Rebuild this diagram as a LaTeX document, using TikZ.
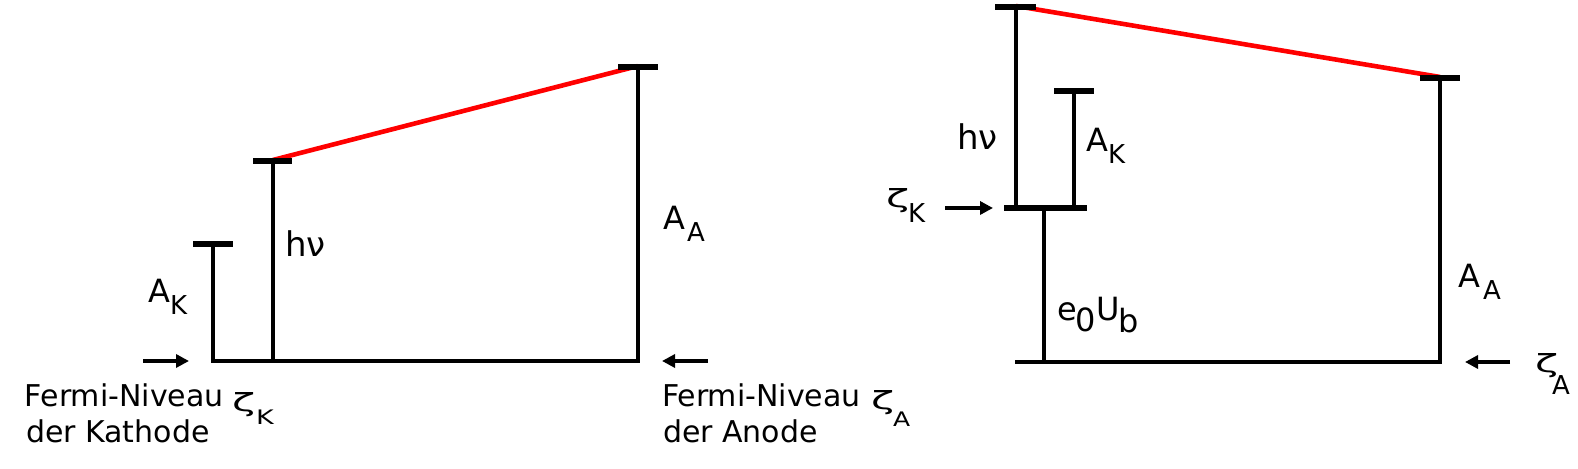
\documentclass[tikz,border=0pt]{standalone}
\usepackage{graphicx}
\usepackage{fontspec}
\setmainfont{DejaVu Sans}
\usetikzlibrary{arrows.meta}
\newcommand\myzeta{\scalebox{1.7}[1]{ζ}}
\begin{document}
\begin{tikzpicture}[x=0.5pt,y=-0.5pt,
  lvl/.style={line width=2.2pt, line join=miter, line cap=butt},
  tickbar/.style={line width=2.8pt},
  redline/.style={line width=2.3pt, red},
  fermiarrow/.style={line width=2.2pt, -{Triangle[length=6.5pt,width=6.5pt]}},
  lbl/.style={anchor=base west, inner sep=0pt, outer sep=0pt, font=\fontsize{16}{19}\selectfont},
  biglbl/.style={anchor=base west, inner sep=0pt, outer sep=0pt, font=\fontsize{17}{20}\selectfont},
  eulbl/.style={anchor=base west, inner sep=0pt, outer sep=0pt, font=\fontsize{16}{19}\selectfont},
  sublbl/.style={anchor=base west, inner sep=0pt, outer sep=0pt, font=\fontsize{13}{15}\selectfont},
  txt/.style={anchor=base west, inner sep=0pt, outer sep=0pt, font=\fontsize{15}{18}\selectfont},
  smallsub/.style={anchor=base west, inner sep=0pt, outer sep=0pt, font=\fontsize{10}{12}\selectfont},
  zetalbl/.style={anchor=base west, inner sep=0pt, outer sep=0pt, font=\fontsize{12.5}{15}\selectfont},
]
\useasboundingbox (0,0) rectangle (1578,469);

% ---------- left diagram: coordinates ----------
\coordinate (LakTop) at (213,244);
\coordinate (LakBot) at (213,361);
\coordinate (LhvTop) at (273,161);
\coordinate (LhvBot) at (273,361);
\coordinate (LaaTop) at (638,67);
\coordinate (LaaBot) at (638,361);
\coordinate (LarrA) at (143,361);
\coordinate (LarrB) at (189,361);
\coordinate (RarrA) at (708,361);
\coordinate (RarrB) at (662,361);

% red line
\draw[redline] (273,160) -- (638,66);
% levels
\draw[lvl] (LakTop) -- (LakBot) -- (LaaBot) -- (LaaTop);
\draw[lvl] (LhvTop) -- (LhvBot);
% ticks
\draw[tickbar] (193,244) -- (233,244);
\draw[tickbar] (253,161) -- (292,161);
\draw[tickbar] (618,67) -- (658,67);
% arrows
\draw[fermiarrow] (LarrA) -- (LarrB);
\draw[fermiarrow] (RarrA) -- (RarrB);

% labels
\node[lbl] (LakA) at (148,303) {A};
\node[sublbl] (LakK) at (170,315) {K};
\node[biglbl] (Lhv) at (285,257) {hν};
\node[lbl] (LaaA) at (663,230) {A};
\node[sublbl] (LaaS) at (687,242) {A};
\node[txt] (LF1) at (25,407) {Fermi-Niveau};
\node[txt] (LF2) at (26,443) {der Kathode};
\node[zetalbl] (LFz) at (232,412) {\myzeta};
\node[smallsub] (LFk) at (256,425) {\scalebox{1.35}[1]{K}};
\node[txt] (RF1) at (662,407) {Fermi-Niveau};
\node[txt] (RF2) at (663,443) {der Anode};
\node[zetalbl] (RFz) at (871,410) {\myzeta};
\node[smallsub] (RFa) at (893,427) {\scalebox{1.25}[1]{A}};

% ---------- right diagram: coordinates ----------
\coordinate (ThvTop) at (1016,7);
\coordinate (ThvBot) at (1016,208);
\coordinate (TakTop) at (1074,91);
\coordinate (TakBot) at (1074,208);
\coordinate (TeuTop) at (1044,208);
\coordinate (TeuBot) at (1044,362);
\coordinate (TbaseL) at (1015,362);
\coordinate (TaaBot) at (1440,362);
\coordinate (TaaTop) at (1440,78);
\coordinate (TzkA) at (945,208);
\coordinate (TzkB) at (993,208);
\coordinate (TzaA) at (1510,362);
\coordinate (TzaB) at (1465,362);

\draw[redline] (1016,6) -- (1440,77);
\draw[lvl] (ThvTop) -- (ThvBot);
\draw[lvl] (TakTop) -- (TakBot);
\draw[lvl] (TeuTop) -- (TeuBot);
\draw[lvl] (TbaseL) -- (TaaBot) -- (TaaTop);
\draw[tickbar] (995,7) -- (1036,7);
\draw[tickbar] (1054,91) -- (1094,91);
\draw[tickbar] (1420,78) -- (1460,78);
\draw[tickbar] (1004,208) -- (1087,208);
\draw[fermiarrow] (TzkA) -- (TzkB);
\draw[fermiarrow] (TzaA) -- (TzaB);

\node[zetalbl] (TzkZ) at (886,208) {\myzeta};
\node[sublbl] (TzkK) at (908,223) {K};
\node[biglbl] (Thv) at (957,150) {hν};
\node[lbl] (TakA) at (1086,152) {A};
\node[sublbl] (TakK) at (1108,164) {K};
\node[eulbl] (Te) at (1057,321) {e};
\node[eulbl] (T0) at (1075,332) {0};
\node[eulbl] (TU) at (1096,321) {U};
\node[eulbl] (Tb) at (1118,333) {b};
\node[lbl] (TaaA) at (1458,288) {A};
\node[sublbl] (TaaS) at (1483,300) {A};
\node[zetalbl] (TzaZ) at (1535,373) {\myzeta};
\node[sublbl] (TzaS) at (1552,395) {A};
\end{tikzpicture}
\end{document}
